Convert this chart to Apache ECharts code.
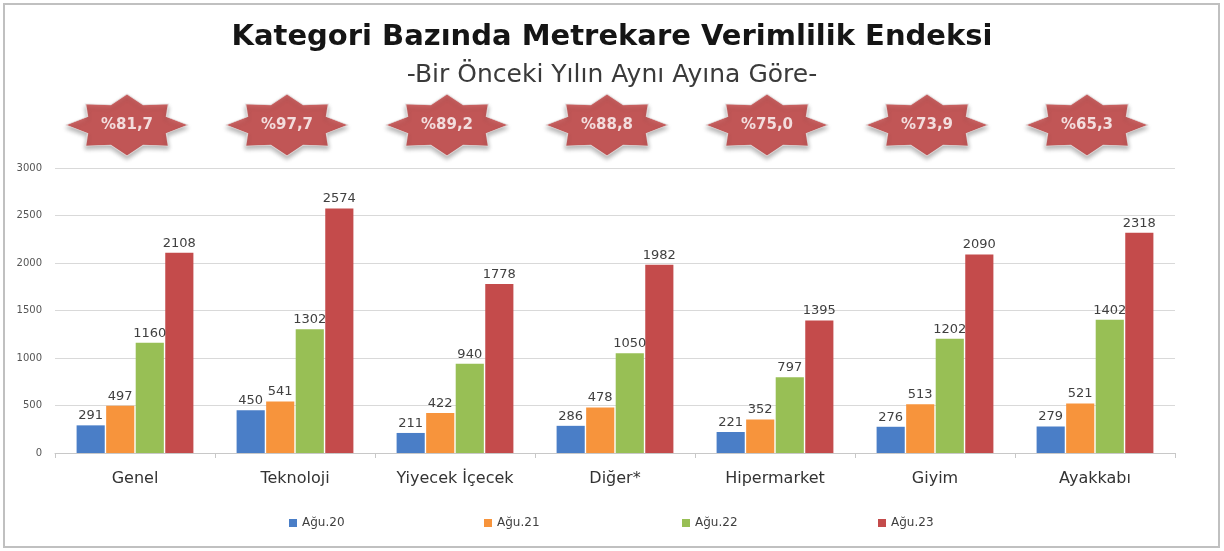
<!DOCTYPE html>
<html>
<head>
<meta charset="utf-8">
<title>Kategori Bazında Metrekare Verimlilik Endeksi</title>
<script src="https://cdn.jsdelivr.net/npm/echarts@6/dist/echarts.min.js"></script>
<style>
  html, body { margin: 0; padding: 0; background: #fff; }
  #chart { width: 1224px; height: 551px; }
</style>
</head>
<body>
<div id="chart"></div>
<script>
const categories = ['Genel', 'Teknoloji', 'Yiyecek İçecek', 'Diğer*', 'Hipermarket', 'Giyim', 'Ayakkabı']
const aug20 = [291, 450, 211, 286, 221, 276, 279]
const aug21 = [497, 541, 422, 478, 352, 513, 521]
const aug22 = [1160, 1302, 940, 1050, 797, 1202, 1402]
const aug23 = [2108, 2574, 1778, 1982, 1395, 2090, 2318]
const badgeText = ['%81,7', '%97,7', '%89,2', '%88,8', '%75,0', '%73,9', '%65,3']
const seriesNames = ['Ağu.20', 'Ağu.21', 'Ağu.22', 'Ağu.23']
const yTicks = [0, 500, 1000, 1500, 2000, 2500, 3000]

// office renk paleti
const colorList = ['#4a7ec7', '#f7943c', '#98bf55', '#c44b4b']
const legendLeft = [284, 479, 677, 873]

// 8 köşeli yıldız
const star = 'path://M50 0L63.39 17.66L83.94 16.06L82.34 36.61L100 50L82.34 63.39L83.94 83.94L63.39 82.34L50 100L36.61 82.34L16.06 83.94L17.66 63.39L0 50L17.66 36.61L16.06 16.06L36.61 17.66Z'

const chart = echarts.init(document.getElementById('chart'))

function barSeries (name, data, idx) {
  return {
    name: name,
    type: 'bar',
    xAxisIndex: 0,
    yAxisIndex: 0,
    data: data,
    barGap: '5%',
    barCategoryGap: '27%',
    itemStyle: { color: colorList[idx] },
    label: {
      show: true,
      position: 'top',
      distance: 3,
      color: '#404040',
      fontFamily: 'DejaVu Sans',
      fontSize: 13
    }
  }
}

const option = {
  backgroundColor: '#fff',
  animation: false,
  title: [
    {
      text: 'Kategori Bazında Metrekare Verimlilik Endeksi',
      left: 'center',
      top: 18,
      textStyle: { fontFamily: 'DejaVu Sans', fontWeight: 'bold', fontSize: 29, color: '#151515' }
    },
    {
      text: '-Bir Önceki Yılın Aynı Ayına Göre-',
      left: 'center',
      top: 58,
      textStyle: { fontFamily: 'DejaVu Sans', fontWeight: 'normal', fontSize: 25, color: '#3a3a3a' }
    }
  ],
  legend: seriesNames.map((n, i) => ({
    data: [n],
    left: legendLeft[i],
    top: 512,
    icon: 'rect',
    itemWidth: 8,
    itemHeight: 8,
    itemGap: 4,
    textStyle: { fontFamily: 'DejaVu Sans', fontSize: 12, color: '#404040' }
  })),
  grid: [
    { left: 55, right: 49, top: 168, height: 285, containLabel: false },
    { left: 55, right: 49, top: 94, height: 62 }
  ],
  xAxis: [
    {
      type: 'category',
      gridIndex: 0,
      data: categories,
      axisLine: { lineStyle: { color: '#c8c8c8' } },
      axisTick: { show: true, length: 5, lineStyle: { color: '#c8c8c8' } },
      axisLabel: { fontFamily: 'DejaVu Sans', fontSize: 16, color: '#333', margin: 18 }
    },
    { type: 'category', gridIndex: 1, data: categories, show: false }
  ],
  yAxis: [
    {
      type: 'value',
      gridIndex: 0,
      min: 0,
      max: yTicks[yTicks.length - 1],
      interval: 500,
      axisLine: { show: false },
      axisTick: { show: false },
      splitLine: { lineStyle: { color: '#d9d9d9' } },
      axisLabel: { fontFamily: 'DejaVu Sans', fontSize: 10, color: '#555', margin: 13, formatter: v => String(v) }
    },
    { type: 'value', gridIndex: 1, min: -1, max: 1, show: false }
  ],
  series: [
    barSeries(seriesNames[0], aug20, 0),
    barSeries(seriesNames[1], aug21, 1),
    barSeries(seriesNames[2], aug22, 2),
    barSeries(seriesNames[3], aug23, 3),
    {
      name: 'badge',
      type: 'scatter',
      xAxisIndex: 1,
      yAxisIndex: 1,
      data: badgeText.map((t, i) => [i, 0]),
      symbol: star,
      symbolSize: [122, 62],
      symbolOffset: [-8, 0],
      itemStyle: {
        color: '#c33d3d',
        borderColor: '#e6e6e6',
        borderWidth: 1,
        shadowColor: 'rgba(0,0,0,0.35)',
        shadowBlur: 4,
        shadowOffsetY: 3
      },
      label: {
        show: true,
        position: 'inside',
        formatter: p => badgeText[p.dataIndex],
        color: '#fff',
        fontFamily: 'DejaVu Sans',
        fontWeight: 'bold',
        fontSize: 15
      },
      silent: true
    }
  ],
  graphic: [
    {
      type: 'rect',
      shape: { x: 4, y: 4, width: 1215, height: 543 },
      style: { fill: 'none', stroke: '#c0c0c0', lineWidth: 2 },
      silent: true
    }
  ]
}
chart.setOption(option)
</script>
</body>
</html>
